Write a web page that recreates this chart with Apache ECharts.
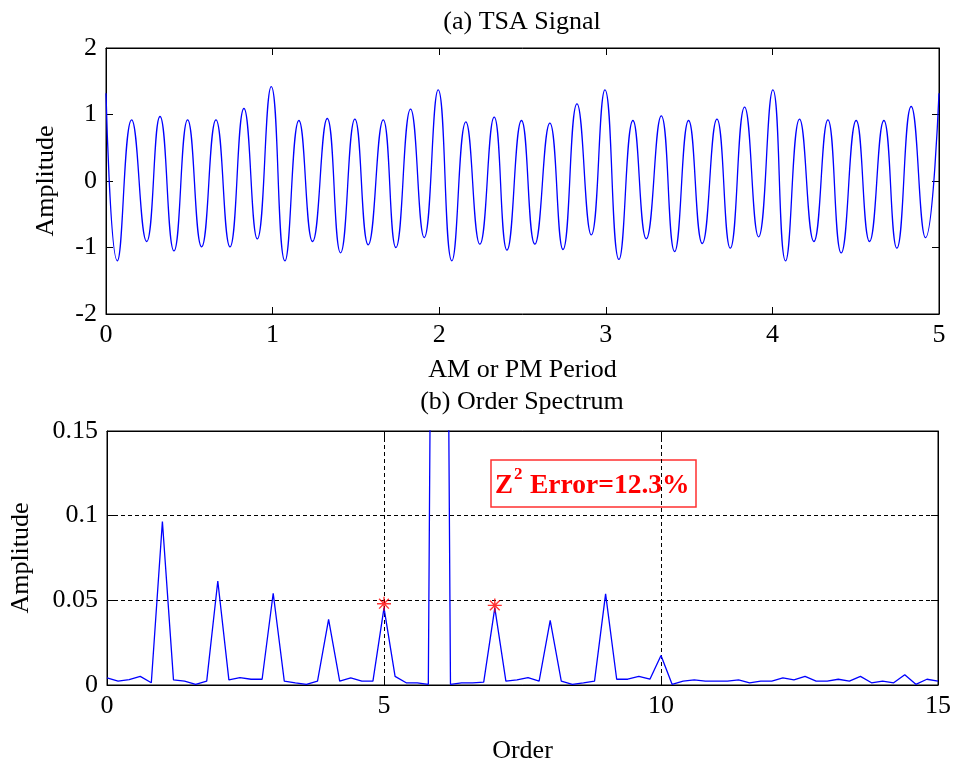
<!DOCTYPE html>
<html>
<head>
<meta charset="utf-8">
<script src="https://cdn.jsdelivr.net/npm/echarts@6/dist/echarts.min.js"></script>
<style>
html,body{margin:0;padding:0;background:#fff;}
#chart{width:957px;height:765px;}
</style>
</head>
<body>
<div id="chart"></div>
<script>
// (a) TSA signal: extrema (period units, amplitude)
var sigPeriod = [0, 0.068, 0.154, 0.244, 0.324, 0.408, 0.49, 0.574, 0.66, 0.744, 0.828, 0.908, 0.992,
  1.074, 1.158, 1.24, 1.328, 1.408, 1.494, 1.574, 1.664, 1.74, 1.828, 1.91, 1.994,
  2.076, 2.16, 2.244, 2.33, 2.407, 2.494, 2.574, 2.664, 2.743, 2.827, 2.913, 2.995,
  3.079, 3.163, 3.243, 3.333, 3.413, 3.497, 3.579, 3.667, 3.747, 3.833, 3.917, 4.003,
  4.079, 4.163, 4.249, 4.333, 4.413, 4.503, 4.583, 4.669, 4.747, 4.833, 4.919, 5.0];
var sigAmp = [1.32, -1.20, 0.92, -0.91, 0.97, -1.05, 0.92, -0.99, 0.92, -0.99, 1.09, -0.87, 1.42,
  -1.20, 0.91, -0.91, 0.94, -1.08, 0.93, -0.96, 0.92, -1.00, 1.08, -0.85, 1.37,
  -1.20, 0.89, -0.95, 0.96, -1.04, 0.91, -0.95, 0.87, -1.03, 1.16, -0.81, 1.37,
  -1.18, 0.91, -0.87, 0.98, -1.06, 0.91, -0.94, 0.93, -1.01, 1.11, -0.84, 1.37,
  -1.20, 0.93, -0.91, 0.92, -1.08, 0.91, -0.91, 0.91, -1.01, 1.12, -0.85, 1.32];

// (b) Order spectrum
var orders = [0, 0.2, 0.4, 0.6, 0.8, 1.0, 1.2, 1.4, 1.6, 1.8, 2.0, 2.2, 2.4, 2.6, 2.8, 3.0, 3.2, 3.4, 3.6, 3.8,
  4.0, 4.2, 4.4, 4.6, 4.8, 5.0, 5.2, 5.4, 5.6, 5.8, 6.0, 6.2, 6.4, 6.6, 6.8, 7.0, 7.2, 7.4, 7.6, 7.8,
  8.0, 8.2, 8.4, 8.6, 8.8, 9.0, 9.2, 9.4, 9.6, 9.8, 10.0, 10.2, 10.4, 10.6, 10.8, 11.0, 11.2, 11.4, 11.6, 11.8,
  12.0, 12.2, 12.4, 12.6, 12.8, 13.0, 13.2, 13.4, 13.6, 13.8, 14.0, 14.2, 14.4, 14.6, 14.8, 15.0];
var spectrum = [0.0042, 0.0023, 0.0032, 0.0051, 0.0013, 0.0966, 0.0030, 0.0023, 0.0004, 0.0023,
  0.0614, 0.0030, 0.0044, 0.0034, 0.0034, 0.0542, 0.0023, 0.0013, 0.0004, 0.0023,
  0.0387, 0.0023, 0.0042, 0.0023, 0.0023, 0.0455, 0.0051, 0.0013, 0.0013, 0.0004,
  1.0, 0.0004, 0.0013, 0.0013, 0.0017, 0.0455, 0.0023, 0.0030, 0.0044, 0.0023,
  0.0381, 0.0023, 0.0004, 0.0013, 0.0023, 0.0538, 0.0034, 0.0034, 0.0051, 0.0034,
  0.0174, 0.0004, 0.0023, 0.0030, 0.0023, 0.0023, 0.0023, 0.0030, 0.0013, 0.0023,
  0.0023, 0.0042, 0.0030, 0.0051, 0.0023, 0.0023, 0.0034, 0.0023, 0.0051, 0.0013,
  0.0023, 0.0013, 0.0061, 0.0004, 0.0034, 0.0023];
var starOrders = [5, 7];
var starAmps = [0.048, 0.047];

var yTicksA = [-2, -1, 0, 1, 2];
var yTicksB = [0, 0.05, 0.1, 0.15];

var FONT = "'Liberation Serif', 'Times New Roman', serif";
var FS = 26;

var chart = echarts.init(document.getElementById('chart'), null, {renderer: 'canvas'});

function zip(a, b) { return a.map(function (v, i) { return [v, b[i]]; }); }

function makeAxis(base, extra) {
  var o = {
    type: 'value',
    axisLine: {show: true, onZero: false, lineStyle: {color: '#000', width: 1}},
    axisTick: {show: true, inside: true, length: 7, lineStyle: {color: '#000'}},
    axisLabel: {show: false},
    splitLine: {show: false}
  };
  for (var k in base) o[k] = base[k];
  for (var k2 in extra) o[k2] = extra[k2];
  return o;
}
var labelStyle = {show: true, fontFamily: FONT, fontSize: FS, color: '#000'};
var nameStyle = {fontFamily: FONT, fontSize: FS, color: '#000'};
var dashed = {show: true, lineStyle: {color: '#000', width: 1, type: [4, 3]}};

var option = {
  backgroundColor: '#fff',
  animation: false,
  title: [
    {text: '(a) TSA Signal', left: 522, top: 9, padding: 0, textAlign: 'center',
     textStyle: {fontFamily: FONT, fontSize: FS, fontWeight: 'normal', color: '#000'}},
    {text: '(b) Order Spectrum', left: 522, top: 389, padding: 0, textAlign: 'center',
     textStyle: {fontFamily: FONT, fontSize: FS, fontWeight: 'normal', color: '#000'}}
  ],
  grid: [
    {left: 106, top: 48, width: 833, height: 266, show: true, borderColor: '#000', borderWidth: 1, backgroundColor: '#fff'},
    {left: 106, top: 431, width: 832, height: 265, show: true, borderColor: '#000', borderWidth: 1, backgroundColor: '#fff'}
  ],
  xAxis: [
    makeAxis({gridIndex: 0, min: 0, max: 5, interval: 1, position: 'bottom'},
      {axisLabel: Object.assign({margin: 8}, labelStyle), name: 'AM or PM Period', nameLocation: 'middle', nameGap: 43, nameTextStyle: nameStyle}),
    makeAxis({gridIndex: 0, min: 0, max: 5, interval: 1, position: 'top'}, {}),
    makeAxis({gridIndex: 1, min: 0, max: 15, interval: 5, position: 'bottom'},
      {axisLabel: Object.assign({margin: 8}, labelStyle), splitLine: dashed, name: 'Order', nameLocation: 'middle', nameGap: 53, nameTextStyle: nameStyle}),
    makeAxis({gridIndex: 1, min: 0, max: 15, interval: 5, position: 'top'}, {})
  ],
  yAxis: [
    makeAxis({gridIndex: 0, min: yTicksA[0], max: yTicksA[yTicksA.length - 1], interval: 1, position: 'left'},
      {axisLabel: Object.assign({margin: 9}, labelStyle), name: 'Amplitude', nameLocation: 'middle', nameGap: 47, nameTextStyle: nameStyle}),
    makeAxis({gridIndex: 0, min: -2, max: 2, interval: 1, position: 'right'}, {}),
    makeAxis({gridIndex: 1, min: yTicksB[0], max: yTicksB[yTicksB.length - 1], interval: 0.05, position: 'left'},
      {axisLabel: Object.assign({margin: 9, formatter: function (v) { return String(+v.toFixed(2)); }}, labelStyle),
       splitLine: dashed, name: 'Amplitude', nameLocation: 'middle', nameGap: 73, nameTextStyle: nameStyle}),
    makeAxis({gridIndex: 1, min: 0, max: 0.15, interval: 0.05, position: 'right'}, {})
  ],
  series: [
    {type: 'line', xAxisIndex: 0, yAxisIndex: 0, data: zip(sigPeriod, sigAmp), smooth: 0.5,
     showSymbol: false, lineStyle: {color: '#0000ff', width: 1.3}, clip: true},
    {type: 'line', xAxisIndex: 2, yAxisIndex: 2, data: zip(orders, spectrum),
     showSymbol: false, lineStyle: {color: '#0000ff', width: 1.3}, clip: true},
    {type: 'scatter', xAxisIndex: 2, yAxisIndex: 2, data: zip(starOrders, starAmps),
     symbol: 'path://M10,0 L10,20 M0,10 L20,10 M3,3 L17,17 M3,17 L17,3',
     symbolSize: 14, itemStyle: {color: 'none', borderColor: '#ff0000', borderWidth: 1.4}, z: 5}
  ],
  graphic: [
    {type: 'group', z: 10, children: [
      {type: 'rect', shape: {x: 491, y: 460, width: 205, height: 47},
       style: {fill: '#fff', stroke: '#ff3030', lineWidth: 1.5}},
      {type: 'text', x: 495, y: 486, style: {text: 'Z', font: 'bold 27px ' + FONT, fill: '#ff0000', textVerticalAlign: 'middle'}},
      {type: 'text', x: 514, y: 475, style: {text: '2', font: 'bold 17px ' + FONT, fill: '#ff0000', textVerticalAlign: 'middle'}},
      {type: 'text', x: 530, y: 486, style: {text: 'Error=12.3%', font: 'bold 27.5px ' + FONT, fill: '#ff0000', textVerticalAlign: 'middle'}}
    ]}
  ]
};
chart.setOption(option);
</script>
</body>
</html>
